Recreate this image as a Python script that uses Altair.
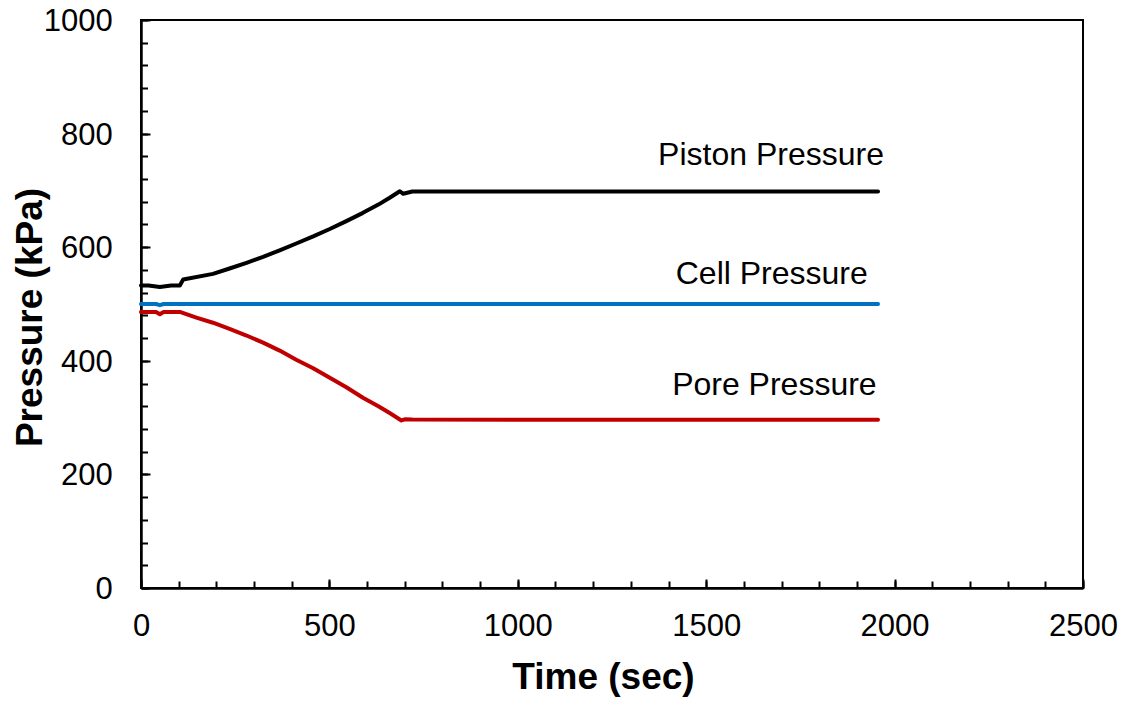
import altair as alt
import pandas as pd

# ---- data ----
piston_t = [0, 20, 50, 80, 103, 112, 191, 235, 280, 324, 368, 412, 457, 501, 545, 589, 630, 660, 687, 696, 720, 1000, 1500, 1956]
piston_p = [532.5, 532.5, 530, 532.5, 532.5, 543, 553, 562.5, 572.5, 583, 594.5, 606.5, 619, 632, 646, 660.5, 675, 687, 698.5, 694, 698, 698, 698, 698]

cell_t = [0, 40, 50, 60, 103, 500, 1000, 1500, 1956]
cell_p = [500, 500, 498, 500, 500, 500, 500, 500, 500]

pore_t = [0, 40, 50, 60, 103, 147, 191, 235, 280, 324, 368, 412, 457, 501, 545, 589, 630, 660, 691, 700, 720, 1000, 1500, 1956]
pore_p = [486, 486, 482, 486, 486, 476, 467, 456, 444.5, 432, 418, 402, 387, 370, 353.5, 335, 320, 308, 295, 297, 296.5, 296, 296, 296]

series_names = ["Piston Pressure", "Cell Pressure", "Pore Pressure"]
series_colors = ["#000000", "#0070C0", "#C00000"]

label_t = [1672, 1674, 1681]
label_p = [744, 536, 339]

x_major = [0, 500, 1000, 1500, 2000, 2500]
x_minor = list(range(0, 2501, 100))
y_major = [0, 200, 400, 600, 800, 1000]
y_minor = list(range(0, 1001, 40))

rows = []
for name, ts, ps in zip(series_names, [piston_t, cell_t, pore_t], [piston_p, cell_p, pore_p]):
    for i, (t, p) in enumerate(zip(ts, ps)):
        rows.append({"series": name, "t": t, "p": p, "i": i})
df = pd.DataFrame(rows)
labels = pd.DataFrame({"label": series_names, "t": label_t, "p": label_p})

FONT = "Liberation Sans"
xscale = alt.Scale(domain=[0, 2500], nice=False, zero=False)
yscale = alt.Scale(domain=[0, 1000], nice=False, zero=False)

lines = alt.Chart(df).mark_line(strokeWidth=4, interpolate="linear", strokeJoin="round",
                                strokeCap="round").encode(
    x=alt.X("t:Q", scale=xscale,
            axis=alt.Axis(orient="bottom", values=x_major, grid=False, format="d",
                          tickSize=alt.ExprRef("-9"), tickWidth=2, tickColor="black",
                          domainColor="black", domainWidth=2.5,
                          labelFont=FONT, labelFontSize=31, labelColor="black",
                          labelPadding=32.5, labelFlush=False, labelOverlap=False,
                          title="Time (sec)", titleFont=FONT, titleFontSize=37,
                          titleFontWeight="bold", titleColor="black",
                          titleX=462, titleY=100, titleAlign="center",
                          titleBaseline="alphabetic")),
    y=alt.Y("p:Q", scale=yscale,
            axis=alt.Axis(orient="left", values=y_major, grid=False, format="d",
                          tickSize=alt.ExprRef("-9"), tickWidth=2, tickColor="black",
                          domainColor="black", domainWidth=2.5,
                          labelFont=FONT, labelFontSize=31, labelColor="black",
                          labelPadding=37.8, labelFlush=False, labelOverlap=False,
                          labelOffset=1.5,
                          title="Pressure (kPa)", titleFont=FONT, titleFontSize=37,
                          titleFontWeight="bold", titleColor="black",
                          titleX=-100, titleY=297, titleAngle=270, titleAlign="center",
                          titleBaseline="alphabetic")),
    color=alt.Color("series:N", scale=alt.Scale(domain=series_names, range=series_colors),
                    legend=None),
    detail="series:N",
    order="i:Q",
)

texts = alt.Chart(labels).mark_text(
    font=FONT, fontSize=32, color="black", align="center", baseline="alphabetic"
).encode(
    x=alt.X("t:Q", scale=xscale,
            axis=alt.Axis(orient="bottom", values=x_minor, grid=False, labels=False,
                          domain=False, tickSize=alt.ExprRef("-7"), tickWidth=2,
                          tickColor="black", title=None)),
    y=alt.Y("p:Q", scale=yscale,
            axis=alt.Axis(orient="left", values=y_minor, grid=False, labels=False,
                          domain=False, tickSize=alt.ExprRef("-6.5"), tickWidth=2,
                          tickColor="black", title=None)),
    text="label:N",
)

chart = alt.layer(lines, texts).resolve_axis(x="independent", y="independent").properties(
    width=942, height=568,
    autosize=alt.AutoSizeParams(type="none"),
    padding={"left": 141, "top": 20, "right": 45, "bottom": 114},
    background="white",
).configure_view(stroke="black", strokeWidth=2)

chart.save("out.html", embed_options={"renderer": "svg", "actions": False})
